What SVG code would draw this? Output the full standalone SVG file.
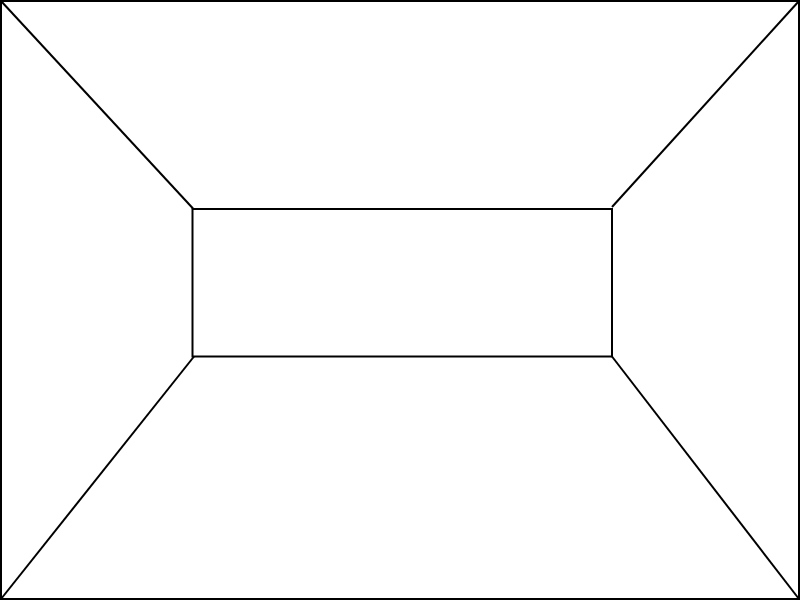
<svg xmlns="http://www.w3.org/2000/svg" width="800" height="600" viewBox="0 0 800 600">
<style>.s{fill:none;stroke:#000;stroke-width:2}</style>
<rect width="800" height="600" fill="#fff"/>
<g id="scene">
<rect class="s" x="1" y="1" width="798" height="598"/>
<rect class="s" x="192.5" y="209" width="419.5" height="147.5"/>
<line class="s" x1="1" y1="1" x2="193" y2="208.5"/>
<line class="s" x1="799" y1="1" x2="612" y2="207"/>
<line class="s" x1="1" y1="599" x2="194" y2="356.5"/>
<line class="s" x1="799" y1="599" x2="612" y2="356.5"/>
</g>
</svg>
